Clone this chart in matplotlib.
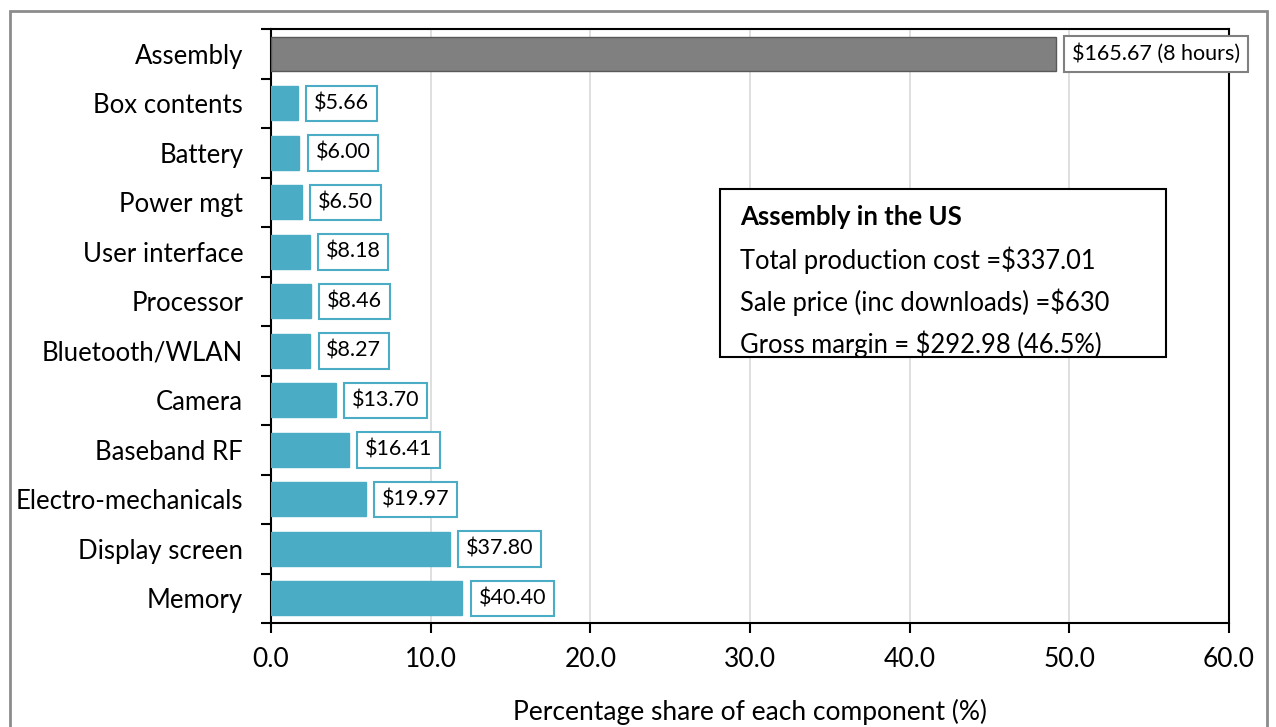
import matplotlib
matplotlib.use("Agg")
import matplotlib.pyplot as plt
from matplotlib.patches import Rectangle
import numpy as np

plt.rcParams['font.family'] = ['Lato', 'DejaVu Sans']

# Component costs (USD), listed top to bottom
components = ["Assembly", "Box contents", "Battery", "Power mgt", "User interface",
              "Processor", "Bluetooth/WLAN", "Camera", "Baseband RF",
              "Electro-mechanicals", "Display screen", "Memory"]
costs = [165.67, 5.66, 6.00, 6.50, 8.18, 8.46, 8.27, 13.70, 16.41, 19.97, 37.80, 40.40]
cost_labels = ["$165.67 (8 hours)", "$5.66", "$6.00", "$6.50", "$8.18", "$8.46",
               "$8.27", "$13.70", "$16.41", "$19.97", "$37.80", "$40.40"]
total_cost = 337.01
x_ticks = [0, 10, 20, 30, 40, 50, 60]

info_title = "Assembly in the US"
info_lines = ["Total production cost =$337.01",
              "Sale price (inc downloads) =$630",
              "Gross margin = $292.98 (46.5%)"]

shares = [c / total_cost * 100 for c in costs]

W, H = 1276, 727
fig = plt.figure(figsize=(W / 100, H / 100), dpi=100)
ax = fig.add_axes([271 / W, 1 - 623 / H, (1229 - 271) / W, (623 - 29) / H])

teal = "#4BACC6"
grey = "#808080"
y = np.arange(len(components))
colors = [grey] + [teal] * (len(components) - 1)
edges = ["#595959"] + [teal] * (len(components) - 1)
ax.barh(y, shares, height=0.68, color=colors, edgecolor=edges, linewidth=1, zorder=3)

lab_fs = 15.5
lab_pad = 0.36
for yi, s, lab, ec in zip(y, shares, cost_labels, [grey] + [teal] * 11):
    ax.annotate(lab, xy=(s, yi), xytext=(6 + lab_fs * lab_pad, 0), textcoords="offset points",
                ha="left", va="center", fontsize=lab_fs, color="black", zorder=5,
                bbox=dict(boxstyle=f"square,pad={lab_pad}", fc="white", ec=ec, lw=1.5))

ax.set_xlim(0, 60)
ax.set_ylim(len(components) - 0.5, -0.5)
ax.set_xticks(x_ticks)
ax.set_xticklabels([f"{v:.1f}" for v in x_ticks], fontsize=19)
ax.set_yticks(y)
ax.set_yticklabels(components, fontsize=18.5)
ax.set_yticks(np.arange(len(components) + 1) - 0.5, minor=True)
ax.tick_params(axis="y", which="major", length=0, pad=20)
ax.tick_params(axis="y", which="minor", length=7, width=1.5, direction="out")
ax.tick_params(axis="x", which="major", length=7, width=1.5, direction="out", pad=10)
ax.grid(axis="x", color="#d9d9d9", lw=1.2, zorder=0)
for sp in ax.spines.values():
    sp.set_linewidth(1.5)
    sp.set_color("black")
ax.set_xlabel("Percentage share of each component (%)", fontsize=19, labelpad=20)

# Information box
bx0, by0, bx1, by1 = 720, 189, 1166, 357
fig.patches.append(Rectangle((bx0 / W, 1 - by1 / H), (bx1 - bx0) / W, (by1 - by0) / H,
                             transform=fig.transFigure, fc="white", ec="black", lw=1.5,
                             zorder=4))
line_y = [217, 260, 302, 344]
fig.text(740 / W, 1 - line_y[0] / H, info_title, fontsize=18.5, fontweight="bold",
         va="center", ha="left", zorder=5)
for ly, txt in zip(line_y[1:], info_lines):
    fig.text(740 / W, 1 - ly / H, txt, fontsize=18.4, va="center", ha="left", zorder=5)

# Outer frame around the chart area
fig.patches.append(Rectangle((10 / W, -0.05), (1267 - 10) / W, 1 - 11 / H + 0.05,
                             transform=fig.transFigure, fill=False, ec="#8c8c8c", lw=2))

fig.savefig("out.png", dpi=100)
